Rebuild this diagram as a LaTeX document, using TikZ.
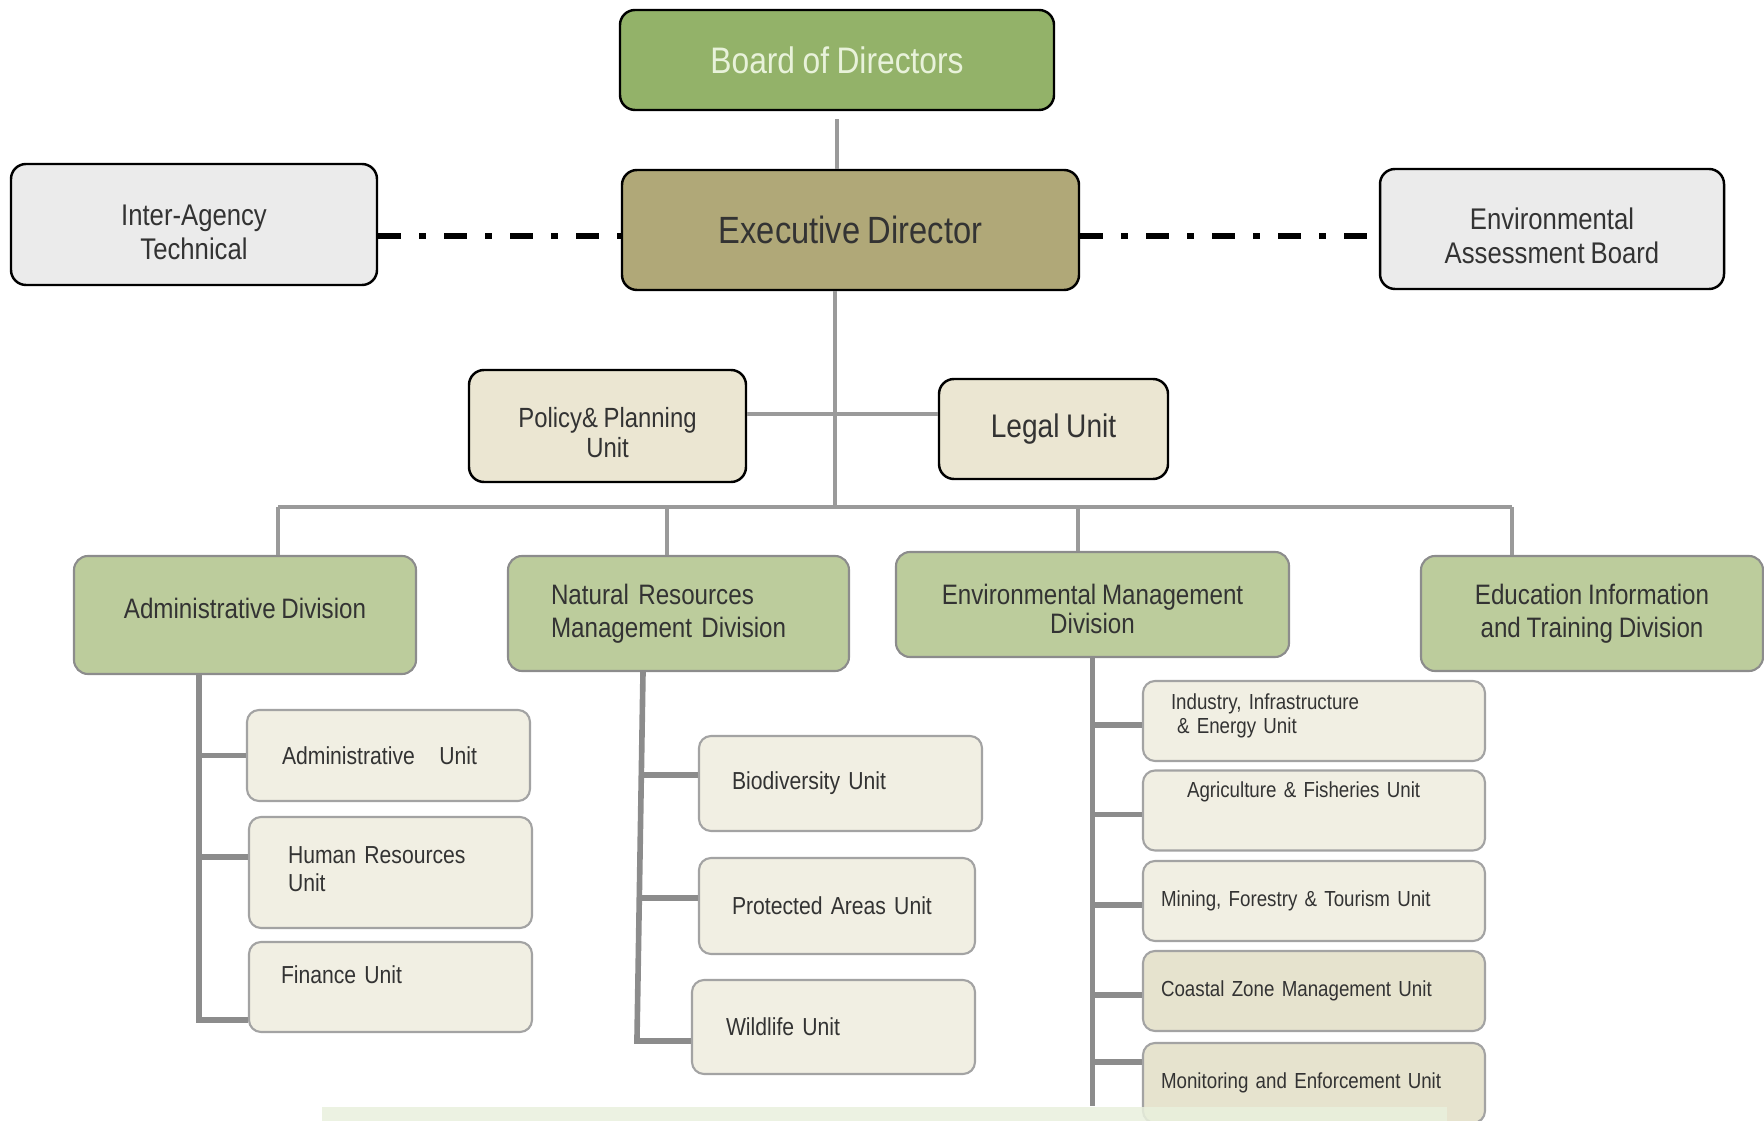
\documentclass[tikz,border=0pt]{standalone}
\usepackage{fontspec}
\setmainfont{Liberation Sans}[FakeStretch=0.86,WordSpace=0.85]
\definecolor{boardgreen}{HTML}{93B269}
\definecolor{boardtext}{HTML}{E8F2DA}
\definecolor{execkhaki}{HTML}{B0A878}
\definecolor{sidegray}{HTML}{EBEBEB}
\definecolor{staffbeige}{HTML}{EBE6D2}
\definecolor{divgreen}{HTML}{BCCC9C}
\definecolor{unitbeige}{HTML}{F1EFE3}
\definecolor{unitdark}{HTML}{E6E3CE}
\definecolor{linegray}{HTML}{9A9A9A}
\definecolor{edgegray}{HTML}{8C8C8C}
\definecolor{textgray}{HTML}{333333}
\definecolor{bandgreen}{HTML}{E9F0DD}
\begin{document}
\begin{tikzpicture}[
  topbox/.style={draw=black, line width=0.7pt, rounded corners=0.15cm, text=textgray, align=center, inner sep=0pt},
  divbox/.style={draw=edgegray, fill=divgreen, line width=0.6pt, rounded corners=0.14cm, text=textgray, align=center, inner sep=0pt, font=\fontsize{8}{9.2}\selectfont},
  unitbox/.style={draw=edgegray!80, fill=unitbeige, line width=0.6pt, rounded corners=0.12cm, text=textgray, align=left, inner ysep=0pt, font=\fontsize{7}{7.7}\selectfont},
  emdunit/.style={unitbox, minimum width=3.42cm, minimum height=0.8cm, font=\fontsize{6.2}{6.8}\selectfont},
  trunk/.style={draw=linegray, line width=1.4pt},
  branch/.style={draw=edgegray, line width=1.6pt},
  dashdot/.style={draw=black, line width=1.5pt, dash pattern=on 0.23cm off 0.18cm on 0.07cm off 0.18cm}
]
\useasboundingbox (0,0) rectangle (17.64,-11.21);

% Board and director
\node[topbox, fill=boardgreen, text=boardtext, minimum width=4.34cm, minimum height=1cm, font=\fontsize{10.5}{12}\selectfont] (board) at (8.37,-0.60) {Board of Directors};
\node[topbox, fill=execkhaki, minimum width=4.57cm, minimum height=1.2cm, font=\fontsize{10.8}{12}\selectfont] (exec) at (8.505,-2.30) {Executive Director};

% Advisory bodies
\node[topbox, fill=sidegray, minimum width=3.66cm, minimum height=1.21cm, text height=0.71cm, font=\fontsize{8.5}{9.8}\selectfont] (inter) at (1.94,-2.245) {Inter-Agency\\Technical};
\node[topbox, fill=sidegray, minimum width=3.44cm, minimum height=1.2cm, text height=0.70cm, font=\fontsize{8.5}{9.8}\selectfont] (eab) at (15.52,-2.29) {Environmental\\Assessment Board};

% Staff units
\node[topbox, fill=staffbeige, minimum width=2.77cm, minimum height=1.12cm, text height=0.64cm, font=\fontsize{7.9}{8.6}\selectfont] (policy) at (6.075,-4.26) {Policy\& Planning\\Unit};
\node[topbox, fill=staffbeige, minimum width=2.29cm, minimum height=1cm, font=\fontsize{9.3}{11}\selectfont] (legal) at (10.535,-4.29) {Legal Unit};

% Divisions
\node[divbox, minimum width=3.42cm, minimum height=1.18cm, text depth=0.14cm] (admdiv) at (2.45,-6.15) {Administrative Division};
\node[divbox, align=left, text width=2.55cm, inner xsep=0.43cm, minimum height=1.15cm, font=\fontsize{8}{9.4}\selectfont] (nrmdiv) at (6.785,-6.135) {Natural Resources\\Management Division};
\node[divbox, minimum width=3.93cm, minimum height=1.05cm, text height=0.59cm, font=\fontsize{8}{8.4}\selectfont] (emdiv) at (10.925,-6.045) {Environmental Management\\Division};
\node[divbox, minimum width=3.42cm, minimum height=1.15cm, font=\fontsize{8}{9.4}\selectfont] (eitdiv) at (15.92,-6.135) {Education Information\\and Training Division};

% Administrative units
\node[unitbox, text width=2.13cm, inner xsep=0.35cm, minimum height=0.91cm] (admu) at (3.885,-7.555) {Administrative\ \ \ Unit};
\node[unitbox, text width=2.05cm, inner xsep=0.39cm, minimum height=1.11cm, text depth=0.34cm] (hru) at (3.905,-8.725) {Human Resources\\Unit};
\node[unitbox, text width=2.19cm, inner xsep=0.32cm, minimum height=0.9cm, text depth=0.25cm] (finu) at (3.905,-9.87) {Finance Unit};

% Natural resources units
\node[unitbox, text width=2.17cm, inner xsep=0.33cm, minimum height=0.95cm] (biou) at (8.405,-7.835) {Biodiversity Unit};
\node[unitbox, text width=2.10cm, inner xsep=0.33cm, minimum height=0.96cm] (protu) at (8.37,-9.06) {Protected Areas Unit};
\node[unitbox, text width=2.15cm, inner xsep=0.34cm, minimum height=0.94cm] (wildu) at (8.335,-10.27) {Wildlife Unit};

% Environmental management units
\node[emdunit, text width=2.86cm, inner xsep=0.28cm, text depth=0.38cm] (indu) at (13.14,-7.21) {Industry, Infrastructure\\\hspace*{0.06cm}\& Energy Unit};
\node[emdunit, text width=2.54cm, inner xsep=0.44cm, text depth=0.42cm] (agru) at (13.14,-8.105) {Agriculture \& Fisheries Unit};
\node[emdunit, text width=3.06cm, inner xsep=0.18cm] (minu) at (13.14,-9.01) {Mining, Forestry \& Tourism Unit};
\node[emdunit, fill=unitdark, text width=3.06cm, inner xsep=0.18cm] (coau) at (13.14,-9.91) {Coastal Zone Management Unit};
\node[emdunit, fill=unitdark, text width=3.06cm, inner xsep=0.18cm] (monu) at (13.14,-10.83) {Monitoring and Enforcement Unit};

% Reporting lines
\coordinate (bus) at (8.35,-5.07);
\coordinate (staff) at (8.35,-4.14);
\coordinate (adv) at (8.35,-2.36);
\draw[trunk, shorten <=0.08cm] (board.south) -- (board.south |- exec.north);
\draw[trunk] (exec.south -| bus) -- (bus);
\draw[trunk] (policy.east |- staff) -- (legal.west |- staff);
\draw[dashdot] (inter.east |- adv) -- (exec.west |- adv);
\draw[dashdot] (exec.east |- adv) -- (eab.west |- adv);

% Bus to the divisions
\coordinate (d1) at (2.78,-5.07);
\coordinate (d2) at (6.67,-5.07);
\coordinate (d3) at (10.78,-5.07);
\coordinate (d4) at (15.12,-5.07);
\draw[trunk] (d1) -- (d4);
\draw[trunk] (d1) -- (d1 |- admdiv.north);
\draw[trunk] (d2) -- (d2 |- nrmdiv.north);
\draw[trunk] (d3) -- (d3 |- emdiv.north);
\draw[trunk] (d4) -- (d4 |- eitdiv.north);

% Administrative branch
\path (admdiv.south) ++(-0.46,0) coordinate (admtop);
\draw[branch] (admtop) |- ([yshift=-0.33cm]finu.west);
\draw[branch] (admu.west) -- ++(-0.48,0);
\draw[branch] ([yshift=0.155cm]hru.west) -- ++(-0.50,0);

% Natural resources branch
\path (nrmdiv.south) ++(-0.355,0) coordinate (nrmtop);
\draw[branch] (nrmtop) -- ([xshift=-0.54cm,yshift=-0.14cm]wildu.west) -- ([yshift=-0.14cm]wildu.west);
\draw[branch] ([yshift=0.085cm]biou.west) -- ++(-0.57,0);
\draw[branch] ([yshift=0.08cm]protu.west) -- ++(-0.59,0);

% Environmental management branch
\draw[branch] (emdiv.south) -- ++(0,-4.48);
\foreach \u in {indu,agru,minu,coau}
  \draw[branch] ([yshift=-0.04cm]\u.west) -- ++(-0.5,0);
\draw[branch] ([yshift=0.21cm]monu.west) -- ++(-0.5,0);

% Band along the foot
\fill[bandgreen, opacity=0.85] (3.22,-11.07) rectangle (14.47,-11.25);
\end{tikzpicture}
\end{document}
